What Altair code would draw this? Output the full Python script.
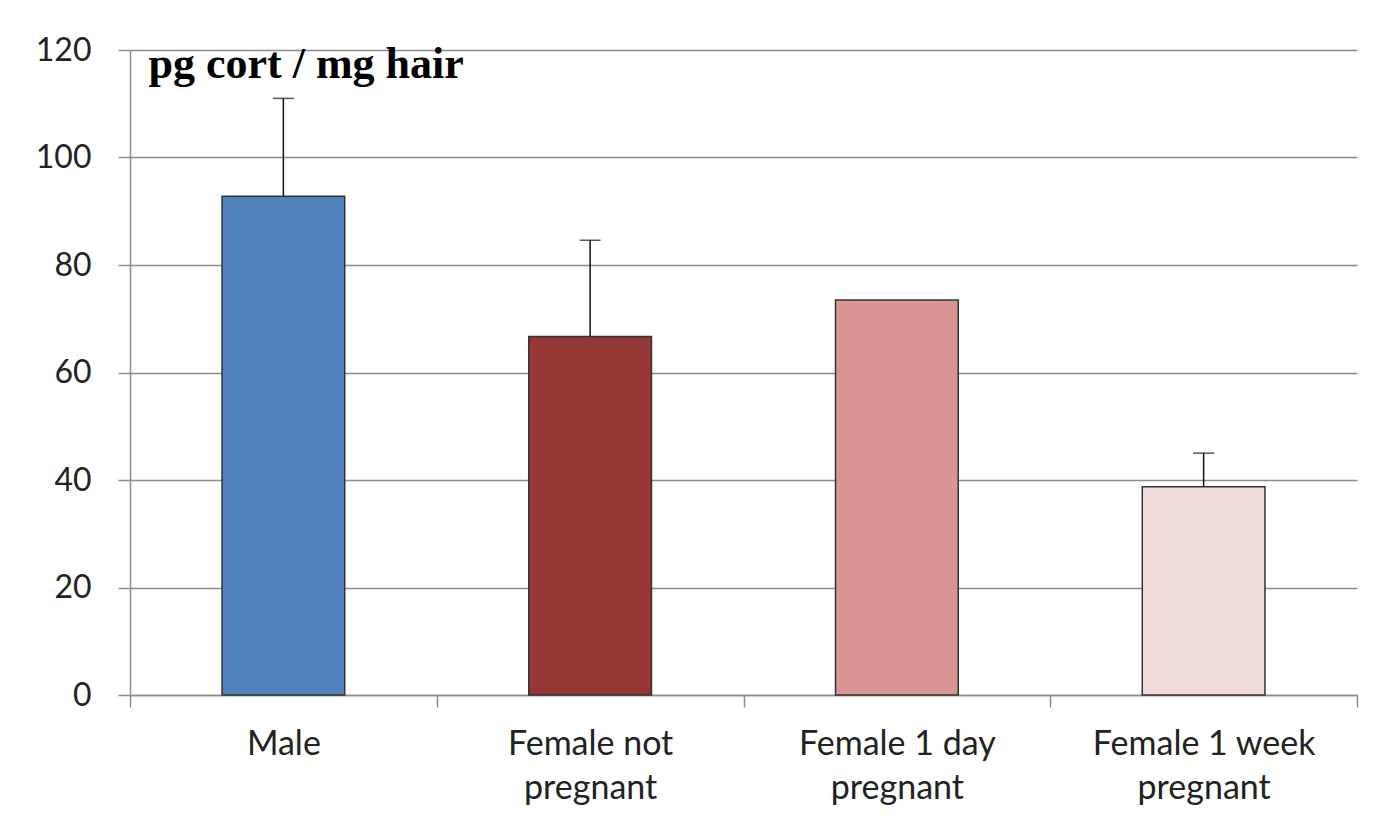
import altair as alt
import pandas as pd

categories = ["Male", "Female not pregnant", "Female 1 day pregnant", "Female 1 week pregnant"]
means = [92.8, 66.7, 73.5, 38.75]
err_top = [111.0, 84.6, None, 45.0]
colors = ["#4F81BD", "#953735", "#D99594", "#F2DCDB"]

df = pd.DataFrame({"cat": categories, "mean": means, "top": err_top, "color": colors})
err_df = df.dropna(subset=["top"])

label_expr = ("datum.value == 'Male' ? ['Male'] : datum.value == 'Female not pregnant' ? ['Female not', 'pregnant'] : "
              "datum.value == 'Female 1 day pregnant' ? ['Female 1 day', 'pregnant'] : "
              "datum.value == 'Female 1 week pregnant' ? ['Female 1 week', 'pregnant'] : ''")

FONT = "Lato"
GRAY = "#8c8c8c"

x = alt.X("cat:N", sort=categories,
          scale=alt.Scale(paddingInner=0, paddingOuter=0),
          axis=alt.Axis(title=None, labelAngle=0, labelExpr=label_expr, tickBand="extent",
                        labelFont=FONT, labelFontSize=34, labelColor="#222", labelLimit=0,
                        labelLineHeight=44, labelPadding=20, labelBaseline="top",
                        domainColor=GRAY, domainWidth=1.5, tickColor=GRAY, tickWidth=1.5,
                        tickSize=12, grid=False))

y_scale = alt.Scale(domain=[0, 120], nice=False)

bars = alt.Chart(df).mark_bar(width=alt.RelativeBandSize(0.4), stroke="#333", strokeWidth=1.5).encode(
    x=x,
    y=alt.Y("mean:Q", scale=y_scale,
            axis=alt.Axis(values=[0, 20, 40, 60, 80, 100, 120], title="pg cort / mg hair",
                          titleAngle=0, titleX=18, titleY=27, titleAlign="left", titleBaseline="alphabetic",
                          titleFont="Liberation Serif", titleFontSize=44, titleFontWeight="bold", titleColor="#000",
                          labelFont=FONT, labelFontSize=32, labelColor="#222", labelPadding=27,
                          domainColor=GRAY, domainWidth=1.5, tickColor=GRAY, tickWidth=1.5, tickSize=12,
                          gridColor=GRAY, gridWidth=1.5)),
    color=alt.Color("color:N", scale=None),
)

stems = alt.Chart(err_df).mark_rule(color="#111", strokeWidth=1.5).encode(
    x=alt.X("cat:N", sort=categories), y=alt.Y("mean:Q", scale=y_scale), y2="top:Q")

caps = alt.Chart(err_df).mark_tick(color="#111", thickness=1.5, size=21, orient="horizontal").encode(
    x=alt.X("cat:N", sort=categories), y=alt.Y("top:Q", scale=y_scale))

chart = alt.layer(bars, stems, caps).properties(
    width=1227, height=645,
    padding={"left": 122, "top": 42, "right": 14, "bottom": 131},
    autosize=alt.AutoSizeParams(type="none"),
    background="white",
).configure_view(stroke=None)

chart.save("out.html", embed_options={"renderer": "svg", "actions": False})
